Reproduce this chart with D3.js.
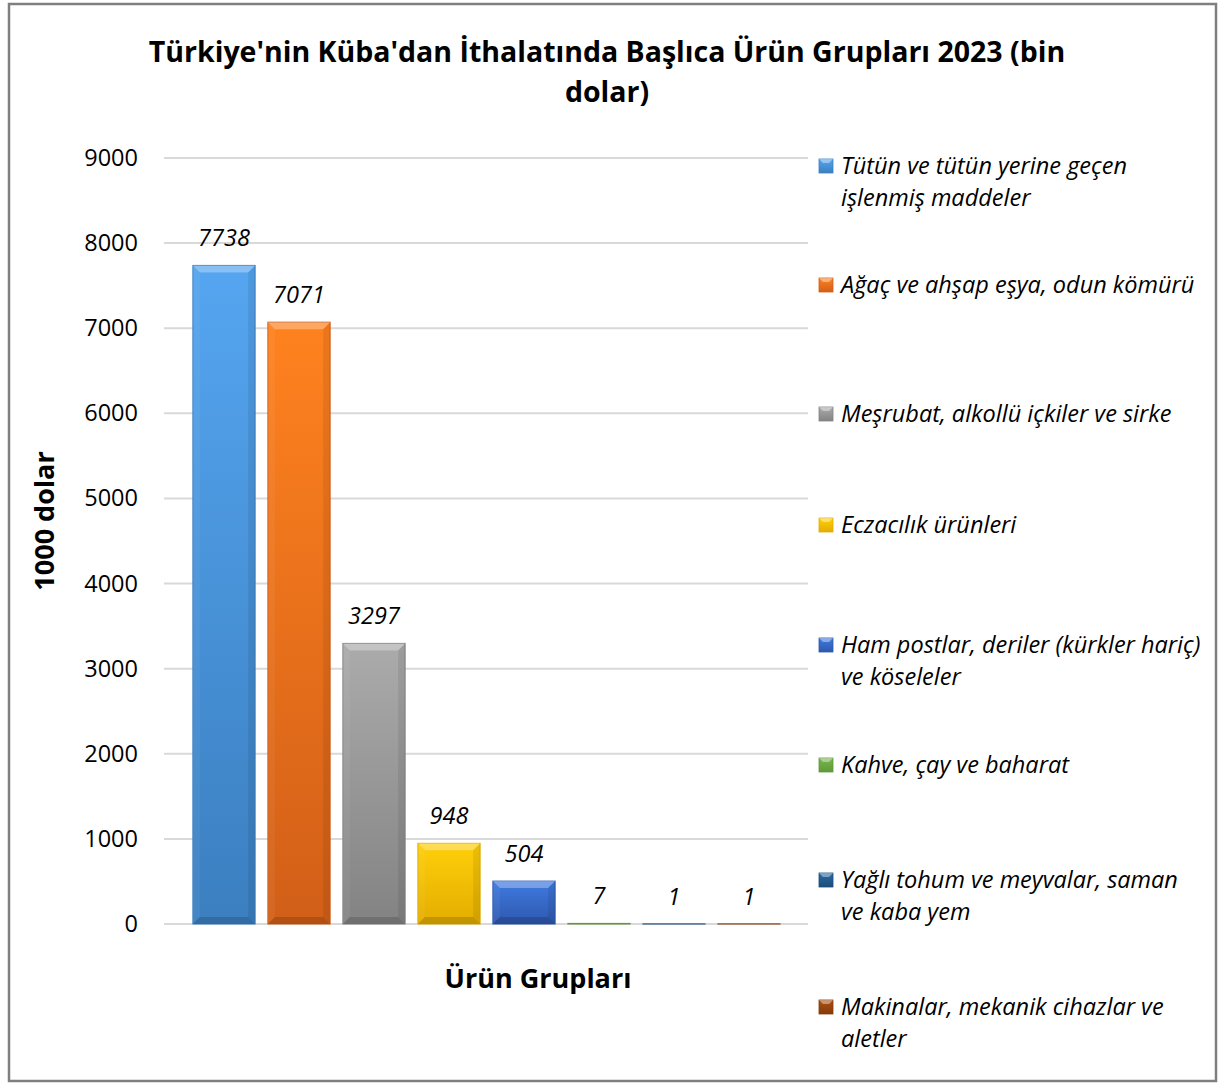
<!DOCTYPE html>
<html>
<head>
<meta charset="utf-8">
<script src="https://d3js.org/d3.v7.min.js"></script>
<style>
    body { margin: 0; background: #fff; }
    text { font-family: "Open Sans", sans-serif; fill: #000; }
</style>
</head>
<body>
<script>
    var width = 1219;
    var height = 1084;

    // data
    var categories = [
        "Tütün ve tütün yerine geçen işlenmiş maddeler",
        "Ağaç ve ahşap eşya, odun kömürü",
        "Meşrubat, alkollü içkiler ve sirke",
        "Eczacılık ürünleri",
        "Ham postlar, deriler (kürkler hariç) ve köseleler",
        "Kahve, çay ve baharat",
        "Yağlı tohum ve meyvalar, saman ve kaba yem",
        "Makinalar, mekanik cihazlar ve aletler"
    ];
    var legendLines = [
        ["Tütün ve tütün yerine geçen", "işlenmiş maddeler"],
        ["Ağaç ve ahşap eşya, odun kömürü"],
        ["Meşrubat, alkollü içkiler ve sirke"],
        ["Eczacılık ürünleri"],
        ["Ham postlar, deriler (kürkler hariç)", "ve köseleler"],
        ["Kahve, çay ve baharat"],
        ["Yağlı tohum ve meyvalar, saman", "ve kaba yem"],
        ["Makinalar, mekanik cihazlar ve", "aletler"]
    ];
    var values = [7738, 7071, 3297, 948, 504, 7, 1, 1];
    var yTicks = [0, 1000, 2000, 3000, 4000, 5000, 6000, 7000, 8000, 9000];
    var colors = ["#5b9bd5", "#ed7d31", "#a5a5a5", "#ffc000", "#4472c4", "#70ad47", "#255e91", "#9e480e"];
    var barTop = ["#55a5f0", "#ff821f", "#ababab", "#ffcf0a", "#3f7ae0", "#79b54d", "#2a69a3", "#ad5012"];
    var barBottom = ["#3b7fc0", "#d25f18", "#838383", "#e3ad00", "#2e58ae", "#5f9a3a", "#1d4d7a", "#843a0a"];

    var svg = d3.select("body").append("svg")
        .attr("width", width)
        .attr("height", height);

    var defs = svg.append("defs");
    colors.forEach(function (c, i) {
        var g = defs.append("linearGradient")
            .attr("id", "grad" + i)
            .attr("x1", 0).attr("y1", 0).attr("x2", 0).attr("y2", 1);
        g.append("stop").attr("offset", "0%").attr("stop-color", barTop[i]);
        g.append("stop").attr("offset", "100%").attr("stop-color", barBottom[i]);
    });

    // outer frame
    svg.append("rect")
        .attr("x", 9).attr("y", 4)
        .attr("width", 1207).attr("height", 1077)
        .attr("fill", "#fff")
        .attr("stroke", "#7f7f7f")
        .attr("stroke-width", 2.5);

    // title
    var title = svg.append("text")
        .attr("text-anchor", "middle")
        .style("font-weight", "bold")
        .style("font-size", "28.5px");
    title.append("tspan").attr("x", 607).attr("y", 62)
        .text("Türkiye'nin Küba'dan İthalatında Başlıca Ürün Grupları 2023 (bin");
    title.append("tspan").attr("x", 607).attr("y", 102)
        .text("dolar)");

    var x = d3.scaleBand()
        .domain(categories)
        .range([186.5, 786.5])
        .paddingInner(0.17)
        .paddingOuter(0.085);

    var y = d3.scaleLinear()
        .domain([0, 9000])
        .range([924, 158]);

    // gridlines
    svg.append("g")
        .selectAll("line")
        .data(yTicks)
        .enter()
        .append("line")
        .attr("x1", 164).attr("x2", 808)
        .attr("y1", function (d) { return y(d); })
        .attr("y2", function (d) { return y(d); })
        .attr("stroke", "#d9d9d9")
        .attr("stroke-width", 2);

    // y axis labels
    var yAxis = svg.append("g")
        .attr("transform", "translate(138,0)")
        .call(d3.axisLeft(y).tickValues(yTicks).tickFormat(d3.format("d")).tickSize(0).tickPadding(0));
    yAxis.select(".domain").remove();
    yAxis.selectAll("text")
        .style("font-family", "'Open Sans', sans-serif")
        .style("font-size", "23.5px")
        .attr("fill", "#000");

    // bars with bevel
    var bev = 7;
    var bars = svg.append("g")
        .selectAll("g")
        .data(values)
        .enter()
        .append("g");

    bars.append("rect")
        .attr("x", function (d, i) { return x(categories[i]); })
        .attr("y", function (d) { return y(d); })
        .attr("width", x.bandwidth())
        .attr("height", function (d) { return y(0) - y(d); })
        .attr("fill", function (d, i) { return "url(#grad" + i + ")"; })
        .attr("stroke", function (d, i) { return barBottom[i]; })
        .attr("stroke-width", 1);

    function bevelPath(d, i, side) {
        var x0 = x(categories[i]), x1 = x0 + x.bandwidth();
        var y0 = y(d), y1 = y(0);
        var b = Math.min(bev, (y1 - y0) / 2);
        if (side == "top") return "M" + x0 + "," + y0 + "L" + x1 + "," + y0 + "L" + (x1 - b) + "," + (y0 + b) + "L" + (x0 + b) + "," + (y0 + b) + "Z";
        if (side == "bottom") return "M" + x0 + "," + y1 + "L" + x1 + "," + y1 + "L" + (x1 - b) + "," + (y1 - b) + "L" + (x0 + b) + "," + (y1 - b) + "Z";
        if (side == "left") return "M" + x0 + "," + y0 + "L" + (x0 + b) + "," + (y0 + b) + "L" + (x0 + b) + "," + (y1 - b) + "L" + x0 + "," + y1 + "Z";
        return "M" + x1 + "," + y0 + "L" + (x1 - b) + "," + (y0 + b) + "L" + (x1 - b) + "," + (y1 - b) + "L" + x1 + "," + y1 + "Z";
    }
    var sides = [["top", "#fff", 0.3], ["left", "#fff", 0.05], ["right", "#000", 0.08], ["bottom", "#000", 0.15]];
    sides.forEach(function (s) {
        bars.filter(function (d) { return y(0) - y(d) > 3; })
            .append("path")
            .attr("d", function (d) { return bevelPath(d, values.indexOf(d), s[0]); })
            .attr("fill", s[1])
            .attr("fill-opacity", s[2]);
    });

    // data labels
    svg.append("g")
        .selectAll("text")
        .data(values)
        .enter()
        .append("text")
        .attr("x", function (d, i) { return x(categories[i]) + x.bandwidth() / 2; })
        .attr("y", function (d) { return y(d) - 19; })
        .attr("text-anchor", "middle")
        .style("font-style", "italic")
        .style("font-size", "23.5px")
        .text(function (d) { return d; });

    // axis titles
    svg.append("text")
        .attr("transform", "translate(54,521) rotate(-90)")
        .attr("text-anchor", "middle")
        .style("font-weight", "bold")
        .style("font-size", "27px")
        .text("1000 dolar");

    svg.append("text")
        .attr("x", 538).attr("y", 988)
        .attr("text-anchor", "middle")
        .style("font-weight", "bold")
        .style("font-size", "27px")
        .text("Ürün Grupları");

    // legend
    var legendY = [166, 285, 414, 525, 645, 765, 880, 1007];
    var leg = svg.append("g")
        .selectAll("g")
        .data(legendLines)
        .enter()
        .append("g")
        .attr("transform", function (d, i) { return "translate(819," + legendY[i] + ")"; });

    leg.append("rect")
        .attr("x", 0).attr("y", -7)
        .attr("width", 14).attr("height", 14)
        .attr("fill", function (d, i) { return "url(#grad" + i + ")"; })
        .attr("stroke", function (d, i) { return barBottom[i]; })
        .attr("stroke-width", 0.8);
    leg.append("path")
        .attr("d", "M0,-7L14,-7L10,-3L4,-3Z")
        .attr("fill", "#fff")
        .attr("fill-opacity", 0.4);

    leg.each(function (lines) {
        var t = d3.select(this).append("text")
            .attr("x", 22)
            .style("font-style", "italic")
            .style("font-size", "23.5px");
        lines.forEach(function (l, k) {
            t.append("tspan").attr("x", 22).attr("y", 8 + k * 32).text(l);
        });
    });
</script>
</body>
</html>
